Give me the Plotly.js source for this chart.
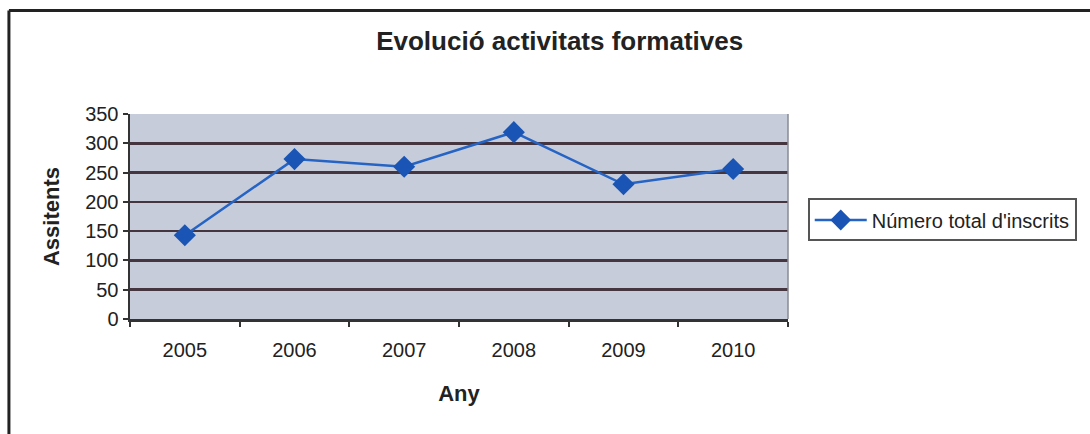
<!DOCTYPE html>
<html>
<head>
<meta charset="utf-8">
<script src="https://cdn.plot.ly/plotly-3.0.1.min.js"></script>
<style>
html,body{margin:0;padding:0;background:#fff;}
#chart{width:1090px;height:434px;}
</style>
</head>
<body>
<div id="chart"></div>
<script>
const years = ["2005", "2006", "2007", "2008", "2009", "2010"];
const inscrits = [143, 273, 260, 319, 230, 256];
const seriesName = "Número total d'inscrits";
const yTicks = [0, 50, 100, 150, 200, 250, 300, 350];

const trace = {
  x: years,
  y: inscrits,
  type: 'scatter',
  mode: 'lines+markers',
  name: seriesName,
  line: {color: '#2563c4', width: 2.5},
  marker: {symbol: 'diamond', size: 17, color: '#1a55b5', line: {width: 0}},
  showlegend: true
};

const layout = {
  width: 1090,
  height: 434,
  margin: {l: 130, r: 302, t: 114, b: 115},
  paper_bgcolor: '#ffffff',
  plot_bgcolor: '#c6ccda',
  font: {family: '"Liberation Sans", Arial, sans-serif', color: '#222', size: 19},
  title: {
    text: '<b>Evolució activitats formatives</b>',
    font: {size: 26, color: '#222'},
    x: 0.653, xanchor: 'center', y: 0.905, yanchor: 'middle', xref: 'paper'
  },
  xaxis: {
    type: 'category',
    range: [-0.5, 5.5],
    tickson: 'boundaries',
    ticks: 'outside', ticklen: 5, tickwidth: 2, tickcolor: '#333',
    showline: true, linecolor: '#333', linewidth: 2.5, mirror: false,
    showgrid: false, zeroline: false,
    tickfont: {size: 20, color: '#222'},
    ticklabelstandoff: 11,
    title: {text: '<b>Any</b>', font: {size: 22, color: '#222'}, standoff: 26},
    fixedrange: true
  },
  yaxis: {
    range: [0, 350],
    tickvals: yTicks,
    ticks: 'outside', ticklen: 5, tickwidth: 2, tickcolor: '#333',
    showline: true, linecolor: '#333', linewidth: 2.5,
    showgrid: true, gridcolor: '#45353f', gridwidth: 2.5,
    zeroline: false,
    tickfont: {size: 20, color: '#222'},
    title: {text: '<b>Assitents</b>', font: {size: 22, color: '#222'}, standoff: 20},
    fixedrange: true
  },
  legend: {
    x: 1.03, xanchor: 'left',
    y: 0.483, yanchor: 'middle',
    bgcolor: '#ffffff', bordercolor: '#555', borderwidth: 2,
    itemwidth: 52,
    font: {size: 20, color: '#222'}
  },
  shapes: [
    {type: 'line', xref: 'paper', yref: 'paper', x0: -0.184, x1: -0.184, y0: -0.6, y1: 1.505, line: {color: '#222', width: 3}},
    {type: 'line', xref: 'paper', yref: 'paper', x0: -0.184, x1: 1.5, y0: 1.505, y1: 1.505, line: {color: '#222', width: 3}},
    {type: 'line', xref: 'paper', yref: 'paper', x0: 1, x1: 1, y0: 0, y1: 1, line: {color: '#8a8a95', width: 1.5}}
  ]
};

Plotly.newPlot('chart', [trace], layout, {displayModeBar: false, staticPlot: true});
</script>
</body>
</html>
